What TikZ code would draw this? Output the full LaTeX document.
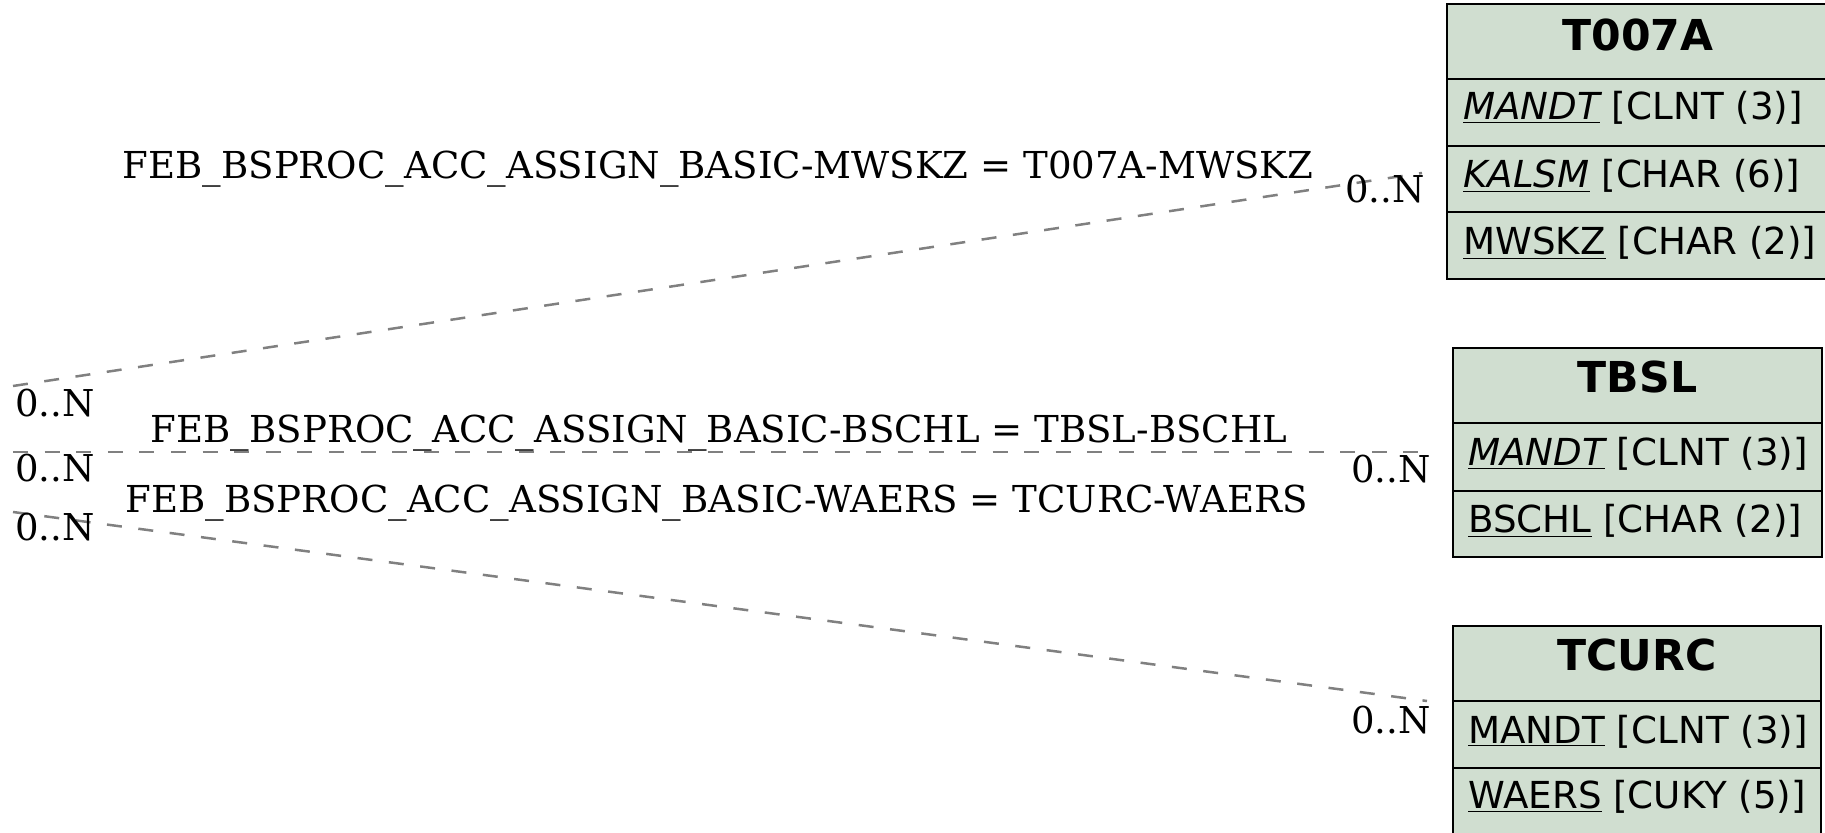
\documentclass[tikz,border=0pt]{standalone}
\usepackage{fontspec}
\setmainfont{DejaVu Serif}
\newfontfamily\tabfont{DejaVu Sans}
\definecolor{tabfill}{RGB}{208,222,208}
\definecolor{linkgray}{RGB}{128,128,128}
\begin{document}
\begin{tikzpicture}[x=0.5pt,y=-0.5pt,
  cell/.style={draw=black, line width=1pt, fill=tabfill},
  hdr/.style={font=\tabfont\bfseries\fontsize{21.3}{25}\selectfont, anchor=base, inner sep=0pt},
  fld/.style={font=\tabfont\fontsize{18.6}{22}\selectfont, anchor=base west, inner sep=0pt},
  card/.style={font=\fontsize{18.5}{22}\selectfont, anchor=base west, inner sep=0pt},
  rel/.style={font=\fontsize{18.55}{22}\selectfont, anchor=base, inner sep=0pt},
  link/.style={draw=linkgray, line width=1.25pt, dash pattern=on 7.5pt off 8.3pt}]
\useasboundingbox (0,0) rectangle (1825,833);

% T007A
\draw[cell] (1447,4) rectangle (1829,79);
\draw[cell] (1447,79) rectangle (1829,146);
\draw[cell] (1447,146) rectangle (1829,212);
\draw[cell] (1447,212) rectangle (1829,279);
\node[hdr] (t7h) at (1638,51) {T007A};
\node[fld] (t7f1) at (1463,120) {\underline{\itshape MANDT} [CLNT (3)]};
\node[fld] (t7f2) at (1463,188) {\underline{\itshape KALSM} [CHAR (6)]};
\node[fld] (t7f3) at (1463,255) {\underline{MWSKZ} [CHAR (2)]};

% TBSL
\draw[cell] (1453,348) rectangle (1822,423);
\draw[cell] (1453,423) rectangle (1822,491);
\draw[cell] (1453,491) rectangle (1822,557);
\node[hdr] (tbh) at (1637.5,393) {TBSL};
\node[fld] (tbf1) at (1468,466) {\underline{\itshape MANDT} [CLNT (3)]};
\node[fld] (tbf2) at (1468,533) {\underline{BSCHL} [CHAR (2)]};

% TCURC
\draw[cell] (1453,626) rectangle (1821,701);
\draw[cell] (1453,701) rectangle (1821,768);
\draw[cell] (1453,768) rectangle (1821,836);
\node[hdr] (tch) at (1637,670) {TCURC};
\node[fld] (tcf1) at (1468,743) {\underline{MANDT} [CLNT (3)]};
\node[fld] (tcf2) at (1468,808) {\underline{WAERS} [CUKY (5)]};

% connectors
\coordinate (a1) at (13,386);
\coordinate (b1) at (1422,173);
\coordinate (a2) at (13,452);
\coordinate (b2) at (1433,452);
\coordinate (a3) at (13,512);
\coordinate (b3) at (1427,701);
\draw[link] (a1) -- (b1);
\draw[link] (a2) -- (b2);
\draw[link] (a3) -- (b3);

% relation labels
\node[rel] (r1) at (718,179) {FEB\_BSPROC\_ACC\_ASSIGN\_BASIC-MWSKZ = T007A-MWSKZ};
\node[rel] (r2) at (719,443) {FEB\_BSPROC\_ACC\_ASSIGN\_BASIC-BSCHL = TBSL-BSCHL};
\node[rel] (r3) at (716.5,513) {FEB\_BSPROC\_ACC\_ASSIGN\_BASIC-WAERS = TCURC-WAERS};

% cardinalities
\node[card] (c1l) at (15,417) {0..N};
\node[card] (c2l) at (15,482) {0..N};
\node[card] (c3l) at (15,541) {0..N};
\node[card] (c1r) at (1345,203) {0..N};
\node[card] (c2r) at (1351,483) {0..N};
\node[card] (c3r) at (1351,733) {0..N};
\end{tikzpicture}
\end{document}
